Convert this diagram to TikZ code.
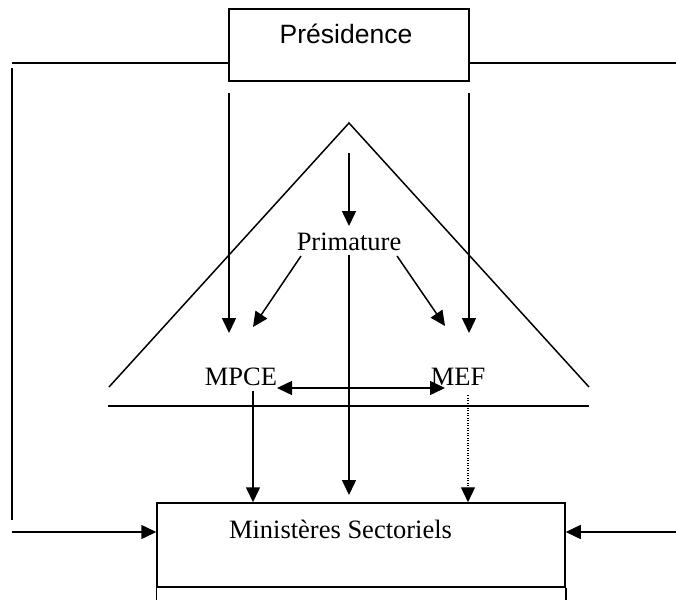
\documentclass[tikz,border=0pt]{standalone}
\usepackage{fontspec}
\setmainfont{Liberation Serif}
\newfontfamily\labelsans{Liberation Sans}
\usetikzlibrary{arrows.meta}
\begin{document}
\begin{tikzpicture}[x=1pt,y=-1pt,
  ln/.style={line width=1.5pt},
  arr/.style={ln,-{Triangle[length=15pt,width=14pt]}},
  dotarr/.style={line width=1.2pt,dash pattern=on 1pt off 1.5pt,-{Triangle[length=15pt,width=14pt]}},
  boxed/.style={draw,ln,inner sep=0pt},
  lbl/.style={font=\fontsize{26.5}{30}\selectfont,inner sep=0pt,anchor=base},
  sanslbl/.style={font=\labelsans\fontsize{26.5}{30}\selectfont,inner sep=0pt,anchor=base}]
\useasboundingbox (0,0) rectangle (676,599);
\clip (0,0) rectangle (676,599);

% Présidence
\node[boxed,minimum width=240pt,minimum height=72pt] (pres) at (349,45) {};
\node[sanslbl] (prestext) at (346,44) {Présidence};

% side frame lines
\coordinate (topL) at (12,63);
\coordinate (topR) at (676,63);
\draw[ln] (topL) -- (topL -| pres.west);
\draw[ln] (topR -| pres.east) -- (topR);
\coordinate (sideTop) at (12,68);
\coordinate (sideBot) at (12,520);
\draw[ln] (sideTop) -- (sideBot);

% triangle (Primature's domain)
\coordinate (apex) at (349,123);
\coordinate (baseL) at (109,387);
\coordinate (baseR) at (589,387);
\draw[ln] (baseL) -- (apex) -- (baseR);
\coordinate (floorL) at (108,406);
\coordinate (floorR) at (589,406);
\draw[ln] (floorL) -- (floorR);

% labels
\node[lbl] (prim) at (349,250) {Primature};
\node[lbl] (mpce) at (241,385) {MPCE};
\node[lbl] (mef) at (458,385) {MEF};

% Ministères Sectoriels box
\node[boxed,minimum width=408pt,minimum height=84pt] (ms) at (361,545) {};
\draw[ln] (ms.south west) -- ++(0,20);
\draw[ln] (ms.south east) -- ++(0,20);
\node[lbl] (mstext) at (340.5,538) {Ministères Sectoriels};

% Présidence down to MPCE and MEF
\coordinate (presL) at (229,93);
\coordinate (presR) at (469,93);
\coordinate (toMpce) at (229,333);
\coordinate (toMef) at (469,333);
\draw[arr] (presL) -- (toMpce);
\draw[arr] (presR) -- (toMef);

% apex down to Primature
\coordinate (apexOut) at (349,153);
\coordinate (primIn) at (349,226);
\draw[arr] (apexOut) -- (primIn);

% Primature out
\coordinate (primL) at (301,256);
\coordinate (primR) at (397,256);
\coordinate (primC) at (349,255);
\coordinate (mpceIn) at (253,327);
\coordinate (mefIn) at (445,326);
\coordinate (msC) at (349,495);
\draw[arr] (primL) -- (mpceIn);
\draw[arr] (primR) -- (mefIn);
\draw[arr] (primC) -- (msC);

% MPCE <-> MEF
\coordinate (mpceR) at (277,388);
\coordinate (mefL) at (445,388);
\draw[ln,{Triangle[length=15pt,width=14pt]}-{Triangle[length=15pt,width=14pt]}] (mpceR) -- (mefL);

% MPCE and MEF down to Ministères Sectoriels
\coordinate (mpceOut) at (253,391);
\coordinate (mefOut) at (468,395);
\draw[arr] (mpceOut) -- (mpceOut |- ms.north);
\draw[dotarr] (mefOut) -- (mefOut |- ms.north);

% side arrows into Ministères Sectoriels
\coordinate (inL) at (12,532);
\coordinate (inR) at (676,532);
\draw[arr] (inL) -- (inL -| ms.west);
\draw[arr] (inR) -- (inR -| ms.east);
\end{tikzpicture}
\end{document}
